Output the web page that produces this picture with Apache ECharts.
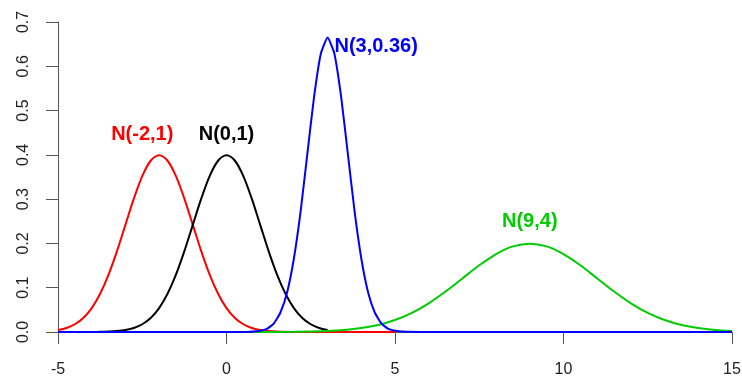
<!DOCTYPE html>
<html>
<head>
<meta charset="utf-8">
<script src="https://cdn.jsdelivr.net/npm/echarts@6/dist/echarts.min.js"></script>
<style>
  html, body { margin: 0; padding: 0; background: #fff; }
  #chart { width: 742px; height: 381px; }
</style>
</head>
<body>
<div id="chart"></div>
<script>
// N(-2,1)
var redX = [-5, -4.75, -4.5, -4.25, -4, -3.75, -3.5, -3.25, -3, -2.75, -2.5, -2.25, -2, -1.75, -1.5, -1.25, -1, -0.75, -0.5, -0.25, 0, 0.25, 0.5, 0.75, 1, 1.5, 2, 3, 4, 5];
var redY = [0.0044, 0.0091, 0.0175, 0.0317, 0.054, 0.0863, 0.1295, 0.1826, 0.242, 0.3011, 0.3521, 0.3867, 0.3989, 0.3867, 0.3521, 0.3011, 0.242, 0.1826, 0.1295, 0.0863, 0.054, 0.0317, 0.0175, 0.0091, 0.0044, 0.0009, 0.0001, 0, 0, 0];

// N(0,1)
var blackX = [-3.8, -3.5, -3.25, -3, -2.75, -2.5, -2.25, -2, -1.75, -1.5, -1.25, -1, -0.75, -0.5, -0.25, 0, 0.25, 0.5, 0.75, 1, 1.25, 1.5, 1.75, 2, 2.25, 2.5, 2.75, 3];
var blackY = [0.0003, 0.0009, 0.002, 0.0044, 0.0091, 0.0175, 0.0317, 0.054, 0.0863, 0.1295, 0.1826, 0.242, 0.3011, 0.3521, 0.3867, 0.3989, 0.3867, 0.3521, 0.3011, 0.242, 0.1826, 0.1295, 0.0863, 0.054, 0.0317, 0.0175, 0.0091, 0.0044];

// N(3,0.36)
var blueX = [-5, 0, 0.6, 0.8, 1, 1.2, 1.4, 1.6, 1.8, 2, 2.2, 2.4, 2.6, 2.8, 3, 3.2, 3.4, 3.6, 3.8, 4, 4.2, 4.4, 4.6, 4.8, 5, 5.2, 6, 15];
var blueY = [0, 0, 0.0002, 0.001, 0.003, 0.007, 0.019, 0.044, 0.09, 0.166, 0.273, 0.403, 0.532, 0.629, 0.665, 0.629, 0.532, 0.403, 0.273, 0.166, 0.09, 0.044, 0.019, 0.007, 0.003, 0.001, 0, 0];

// N(9,4)
var greenX = [0.8, 1, 2, 3, 3.5, 4, 4.5, 5, 5.5, 6, 6.5, 7, 7.5, 8, 8.5, 9, 9.5, 10, 10.5, 11, 11.5, 12, 12.5, 13, 13.5, 14, 14.5, 15];
var greenY = [0.0001, 0.0001, 0.0004, 0.0022, 0.0045, 0.0088, 0.0159, 0.027, 0.0431, 0.0648, 0.0913, 0.121, 0.1506, 0.176, 0.1933, 0.1995, 0.1933, 0.176, 0.1506, 0.121, 0.0913, 0.0648, 0.0431, 0.027, 0.0159, 0.0088, 0.0045, 0.0022];

// curve labels (anchor in data coords)
var labelText = ['N(-2,1)', 'N(0,1)', 'N(3,0.36)', 'N(9,4)'];
var labelX = [-2.5, 0, 4.44, 9.0];
var labelY = [0.446, 0.446, 0.645, 0.249];
var labelColor = ['#ff0000', '#000000', '#0000ff', '#00cc00'];

function pairs(xs, ys) {
    return xs.map(function (x, i) { return [x, ys[i]]; });
}

function curve(name, xs, ys, color, smooth) {
    return {
        name: name,
        type: 'line',
        data: pairs(xs, ys),
        showSymbol: false,
        symbol: 'none',
        smooth: smooth,
        lineStyle: { color: color, width: 2 },
        z: 2
    };
}

var chart = echarts.init(document.getElementById('chart'));

var option = {
    animation: false,
    backgroundColor: '#fff',
    grid: { left: 58, right: 10, top: 22, bottom: 49, containLabel: false, outerBoundsMode: 'none' },
    xAxis: {
        type: 'value',
        min: -5,
        max: 15,
        interval: 5,
        splitLine: { show: false },
        axisLine: { onZero: false, lineStyle: { color: '#555', width: 1 } },
        axisTick: { length: 12, lineStyle: { color: '#555' } },
        axisLabel: { margin: 30, color: '#222', fontSize: 16, fontFamily: 'Liberation Sans', showMinLabel: true, showMaxLabel: true }
    },
    yAxis: {
        type: 'value',
        min: 0,
        max: 0.7,
        interval: 0.1,
        splitLine: { show: false },
        axisLine: { show: true, onZero: false, lineStyle: { color: '#555', width: 1 } },
        axisTick: { show: true, length: 12, lineStyle: { color: '#555' } },
        axisLabel: {
            rotate: 90,
            margin: 26,
            color: '#222',
            fontSize: 16,
            fontFamily: 'Liberation Sans',
            formatter: function (v) { return v.toFixed(1); }
        }
    },
    series: [
        curve('N(-2,1)', redX, redY, '#ff0000', 0.3),
        curve('N(0,1)', blackX, blackY, '#000000', 0.3),
        curve('N(9,4)', greenX, greenY, '#00cc00', 0.3),
        curve('N(3,0.36)', blueX, blueY, '#0000ff', 0.15),
        {
            type: 'scatter',
            symbolSize: 0,
            silent: true,
            z: 5,
            itemStyle: { opacity: 1 },
            data: labelText.map(function (t, i) {
                return {
                    value: [labelX[i], labelY[i]],
                    itemStyle: { opacity: 1 },
                    label: {
                        show: true,
                        position: 'inside',
                        formatter: t,
                        color: labelColor[i],
                        opacity: 1,
                        fontSize: 20,
                        fontWeight: 'bold',
                        fontFamily: 'Liberation Sans'
                    }
                };
            })
        }
    ]
};

option && chart.setOption(option);
</script>
</body>
</html>
